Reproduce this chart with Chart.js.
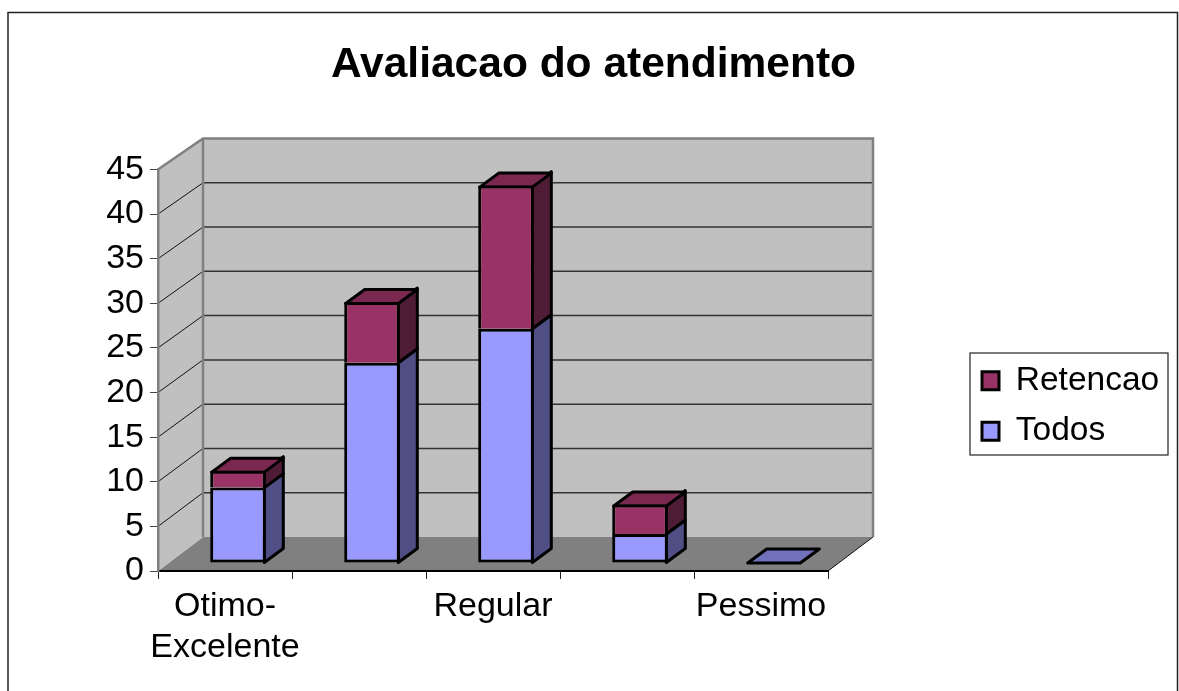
<!DOCTYPE html>
<html>
<head>
<meta charset="utf-8">
<title>Avaliacao do atendimento</title>
<script src="https://cdn.jsdelivr.net/npm/chart.js@4/dist/chart.umd.min.js"></script>
<style>
    body { margin: 0; background: #fff; }
    canvas { display: block; }
</style>
</head>
<body>
<canvas id="chart" width="1179" height="691"></canvas>
<script>
const chartTitle = 'Avaliacao do atendimento';
const categories = [['Otimo-', 'Excelente'], '', 'Regular', '', 'Pessimo'];
const todos = [8.45, 22.45, 26.25, 3.25, 0];
const retencao = [1.9, 6.8, 16.05, 3.3, 0];
const yTicks = [0, 5, 10, 15, 20, 25, 30, 35, 40, 45];

// pseudo 3D settings
const wallDepth = { x: 45, yBottom: 34, yTop: 31 };
const barDepth = { x: 19, y: 14 };
const barShift = { x: 13, y: -8 };
const legendFrame = { left: 970, top: 353, right: 1168, bottom: 455 };
const shades = [
    { side: '#4f4f85', top: '#7070bb' },
    { side: '#4f1c36', top: '#7a2850' }
];
const edgeWidth = 3;

function poly(ctx, points, fill, stroke, width) {
    ctx.beginPath();
    points.forEach((p, i) => i ? ctx.lineTo(p[0], p[1]) : ctx.moveTo(p[0], p[1]));
    ctx.closePath();
    if (fill) {
        ctx.fillStyle = fill;
        ctx.fill();
    }
    if (stroke) {
        ctx.strokeStyle = stroke;
        ctx.lineWidth = width;
        ctx.stroke();
    }
}

function line(ctx, x1, y1, x2, y2, color, width) {
    ctx.beginPath();
    ctx.moveTo(x1, y1);
    ctx.lineTo(x2, y2);
    ctx.strokeStyle = color;
    ctx.lineWidth = width;
    ctx.stroke();
}

const scenePlugin = {
    id: 'scene',
    afterLayout(chart) {
        // title centred on the whole frame, legend moved to its box on the right
        chart.titleBlock.left = 8;
        chart.titleBlock.right = 1179;
        const legend = chart.legend;
        legend.left = 965;
        legend.right = legendFrame.right;
        legend.top = 347;
        legend.bottom = 560; // roomy, or the second row wraps to a new column
    },
    beforeDraw(chart) {
        const ctx = chart.ctx;
        const { left, right, top, bottom } = chart.chartArea;
        const dx = wallDepth.x, dyB = wallDepth.yBottom, dyT = wallDepth.yTop;
        ctx.save();
        ctx.fillStyle = '#fff';
        ctx.fillRect(0, 0, chart.width, chart.height);

        // outer frame, runs off the bottom of the picture
        ctx.beginPath();
        ctx.moveTo(8, 691);
        ctx.lineTo(8, 12.5);
        ctx.lineTo(1177.5, 12.5);
        ctx.lineTo(1177.5, 691);
        ctx.strokeStyle = '#222';
        ctx.lineWidth = 1.5;
        ctx.stroke();

        // walls and floor
        poly(ctx, [[left, bottom], [left + dx, bottom - dyB], [right + dx, bottom - dyB], [right, bottom]], '#808080');
        poly(ctx, [[left, bottom], [left + dx, bottom - dyB], [left + dx, top - dyT], [left, top]], '#c0c0c0');
        poly(ctx, [[left + dx, bottom - dyB], [left + dx, top - dyT], [right + dx, top - dyT], [right + dx, bottom - dyB]], '#c0c0c0');

        const y = chart.scales.y;
        const yMax = yTicks[yTicks.length - 1];
        yTicks.forEach(v => {
            if (v === 0 || v === yMax) return;
            const py = y.getPixelForValue(v);
            const dy = dyB + (dyT - dyB) * v / yMax;
            line(ctx, left, py, left + dx, py - dy, '#111', 1);
            line(ctx, left + dx, py - dy, right + dx, py - dy, '#333', 1.5);
        });

        // wall edges
        ctx.beginPath();
        ctx.moveTo(left, top);
        ctx.lineTo(left + dx, top - dyT);
        ctx.lineTo(right + dx, top - dyT);
        ctx.lineTo(right + dx, bottom - dyB);
        ctx.moveTo(left + dx, top - dyT);
        ctx.lineTo(left + dx, bottom - dyB);
        ctx.strokeStyle = '#808080';
        ctx.lineWidth = 2.5;
        ctx.stroke();
        line(ctx, right, bottom, right + dx, bottom - dyB, '#111', 1);

        // legend frame
        ctx.strokeStyle = '#222';
        ctx.lineWidth = 1.2;
        ctx.strokeRect(legendFrame.left, legendFrame.top, legendFrame.right - legendFrame.left, legendFrame.bottom - legendFrame.top);
        ctx.restore();
    },
    beforeDatasetsDraw(chart) {
        const ctx = chart.ctx;
        const half = edgeWidth / 2;
        ctx.save();
        ctx.translate(barShift.x, barShift.y);
        ctx.lineJoin = 'round';

        // side and top faces, the front comes from the bars themselves
        chart.data.datasets.forEach((ds, d) => {
            chart.getDatasetMeta(d).data.forEach((bar, i) => {
                if (ds.data[i] === 0) return;
                const r = bar.x + bar.width / 2 - half;
                poly(ctx, [[r, bar.y], [r + barDepth.x, bar.y - barDepth.y], [r + barDepth.x, bar.base - barDepth.y], [r, bar.base]],
                    shades[d].side, '#000', edgeWidth);
            });
        });
        categories.forEach((c, i) => {
            // top face belongs to the highest series with a value, or the first one when all are zero
            let d = chart.data.datasets.length - 1;
            while (d > 0 && chart.data.datasets[d].data[i] === 0) d--;
            const bar = chart.getDatasetMeta(d).data[i];
            const l = bar.x - bar.width / 2 + half;
            const r = bar.x + bar.width / 2 - half;
            const t = bar.y + (bar.base === bar.y ? 0 : half);
            poly(ctx, [[l, t], [r, t], [r + barDepth.x, t - barDepth.y], [l + barDepth.x, t - barDepth.y]],
                shades[d].top, '#000', edgeWidth);
        });
    },
    afterDatasetsDraw(chart) {
        chart.ctx.restore();
    }
};

document.addEventListener('DOMContentLoaded', () => {
    Chart.defaults.color = '#000';
    Chart.defaults.font.family = "'Liberation Sans', Arial, sans-serif";

    new Chart(document.getElementById('chart').getContext('2d'), {
        type: 'bar',
        data: {
            labels: categories,
            datasets: [
                { label: 'Todos', data: todos, backgroundColor: '#9999ff', borderColor: '#000', borderWidth: edgeWidth, borderSkipped: false, clip: false },
                { label: 'Retencao', data: retencao, backgroundColor: '#993366', borderColor: '#000', borderWidth: edgeWidth, clip: false }
            ]
        },
        options: {
            responsive: false,
            animation: false,
            categoryPercentage: 1,
            barPercentage: 0.415,
            layout: { padding: { left: 0, top: 0, right: 351, bottom: 0 } },
            plugins: {
                title: {
                    display: true,
                    text: chartTitle,
                    font: { size: 42.5, weight: 'bold' },
                    padding: { top: 40, bottom: 78.5 }
                },
                legend: {
                    position: 'chartArea',
                    align: 'start',
                    reverse: true,
                    labels: {
                        font: { size: 33.5 },
                        boxWidth: 17,
                        boxHeight: 18,
                        padding: 17
                    }
                },
                tooltip: { enabled: false }
            },
            scales: {
                x: {
                    stacked: true,
                    afterFit(scale) { scale.height = 120; },
                    border: { color: '#000', width: 2 },
                    grid: { drawOnChartArea: false, color: '#222', tickLength: 8 },
                    ticks: { autoSkip: false, maxRotation: 0, padding: 7, font: { size: 34 } }
                },
                y: {
                    stacked: true,
                    min: 0,
                    max: 45,
                    afterFit(scale) { scale.width = 158; },
                    afterBuildTicks(scale) { scale.ticks = yTicks.map(v => ({ value: v })); },
                    border: { color: '#808080', width: 2.5 },
                    grid: { drawOnChartArea: false, color: '#444', tickLength: 8 },
                    ticks: { padding: 6, font: { size: 34 } }
                }
            }
        },
        plugins: [scenePlugin]
    });
});
</script>
</body>
</html>
